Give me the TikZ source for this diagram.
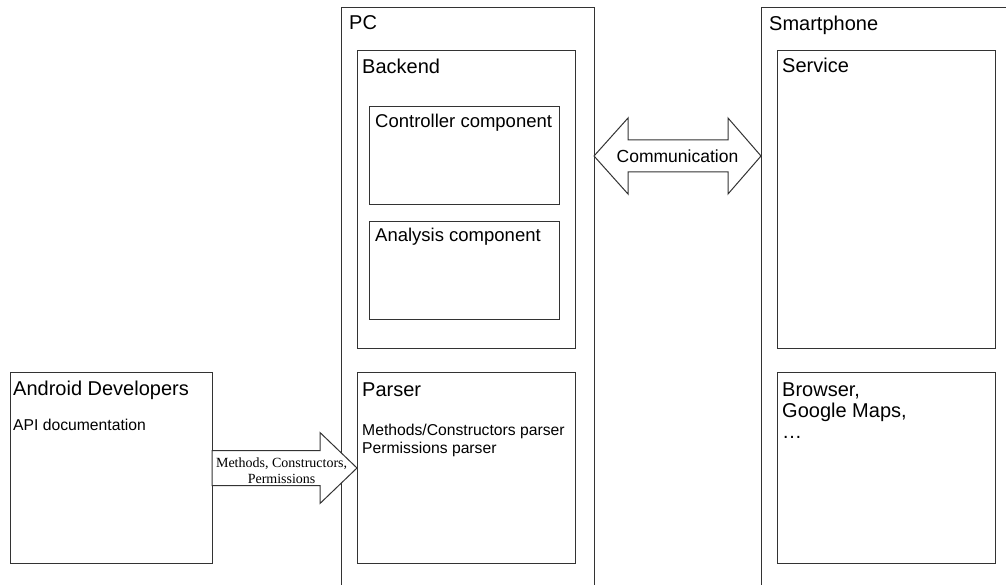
\documentclass[tikz,border=0pt]{standalone}
\usepackage{fontspec}
\setmainfont{Liberation Sans}
\newfontfamily\arrowfont{Liberation Serif}
\usetikzlibrary{calc}

\tikzset{
    box/.style={draw=black!80, line width=1pt, fill=white, outer sep=0pt, inner sep=0pt, anchor=north west},
    heading/.style={anchor=base west, inner sep=0pt, font=\fontsize{20}{21}\selectfont, align=left},
    compname/.style={anchor=base west, inner sep=0pt, font=\fontsize{18.5}{20}\selectfont},
    detail/.style={anchor=base west, inner sep=0pt, font=\fontsize{15.7}{18}\selectfont, align=left},
    fatarrow/.style={draw=black!80, line width=1pt, fill=white, line join=miter},
}

\begin{document}
\begin{tikzpicture}[x=1pt, y=1pt]
    \clip (0,0) rectangle (1006,584);

    % PC side
    \node[box, minimum width=253, minimum height=620] (pc) at (341,576) {};
    \node[box, minimum width=218, minimum height=298] (backend) at (357,533) {};
    \node[box, minimum width=190, minimum height=98] (ctrl) at (369,477) {};
    \node[box, minimum width=190, minimum height=98] (analysis) at (369,362) {};
    \node[box, minimum width=218, minimum height=190] (parser) at (357,211) {};

    % smartphone side
    \node[box, minimum width=300, minimum height=620] (phone) at (761,576) {};
    \node[box, minimum width=218, minimum height=298] (service) at (777,533) {};
    \node[box, minimum width=218, minimum height=190] (apps) at (777,211) {};

    % documentation source
    \node[box, minimum width=202, minimum height=190] (android) at (10,211) {};

    % titles and texts (base anchor sits on the last line)
    \node[heading] (pctitle) at ([shift={(8,-22)}]pc.north west) {PC};
    \node[heading] (backendtitle) at ([shift={(5,-23)}]backend.north west) {Backend};
    \node[compname] (ctrltitle) at ([shift={(6,-21)}]ctrl.north west) {Controller component};
    \node[compname] (analysistitle) at ([shift={(6,-20)}]analysis.north west) {Analysis component};
    \node[heading] (parsertitle) at ([shift={(5,-23)}]parser.north west) {Parser};
    \node[detail] (parserinfo) at ([shift={(5,-80)}]parser.north west) {Methods/Constructors parser\\Permissions parser};

    \node[heading] (phonetitle) at ([shift={(8,-23)}]phone.north west) {Smartphone};
    \node[heading] (servicetitle) at ([shift={(5,-22)}]service.north west) {Service};
    \node[heading] (appslist) at ([shift={(5,-65)}]apps.north west) {Browser,\\Google Maps,\\…};

    \node[heading] (androidtitle) at ([shift={(3,-22)}]android.north west) {Android Developers};
    \node[detail] (androidinfo) at ([shift={(3,-57)}]android.north west) {API documentation};

    % parsed input
    \draw[fatarrow] ([yshift=17.5]android.east) -- ([shift={(-37,17.5)}]parser.west)
        -- ([shift={(-37,35.5)}]parser.west) -- (parser.west)
        -- ([shift={(-37,-35.5)}]parser.west) -- ([shift={(-37,-17.5)}]parser.west)
        -- ([yshift=-17.5]android.east) -- cycle;
    \node[font=\arrowfont\fontsize{14}{16}\selectfont, align=center, inner sep=0pt] (parsedlabel)
        at ([yshift=-3]$(android.east)!0.48!(parser.west)$) {Methods, Constructors,\\Permissions};

    % link between PC and phone
    \coordinate (link) at (0,428);
    \draw[fatarrow] (pc.east |- link) -- ([shift={(34,38)}]pc.east |- link)
        -- ([shift={(34,16)}]pc.east |- link) -- ([shift={(-33,16)}]phone.west |- link)
        -- ([shift={(-33,38)}]phone.west |- link) -- (phone.west |- link)
        -- ([shift={(-33,-38)}]phone.west |- link) -- ([shift={(-33,-16)}]phone.west |- link)
        -- ([shift={(34,-16)}]pc.east |- link) -- ([shift={(34,-38)}]pc.east |- link) -- cycle;
    \node[font=\fontsize{17.5}{19}\selectfont, inner sep=0pt] (linklabel)
        at ($(pc.east |- link)!0.5!(phone.west |- link)$) {Communication};
\end{tikzpicture}
\end{document}
